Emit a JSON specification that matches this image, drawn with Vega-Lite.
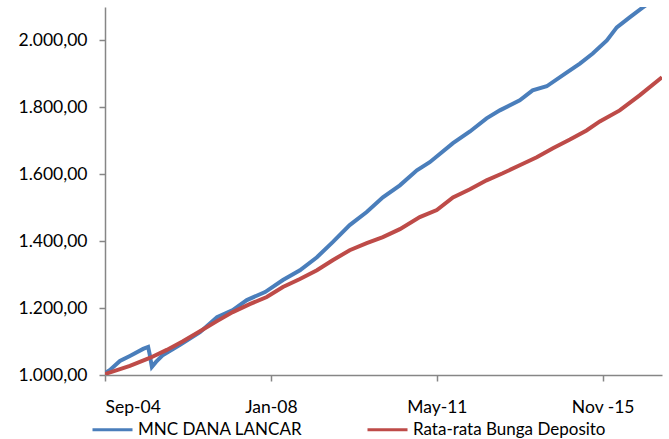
{
  "$schema": "https://vega.github.io/schema/vega-lite/v6.json",
  "width": 557,
  "height": 368,
  "autosize": "none",
  "padding": {"left": 105, "top": 7, "right": 7, "bottom": 64},
  "background": "white",
  "config": {
    "locale": {"number": {"decimal": ",", "thousands": ".", "grouping": [3], "currency": ["", ""]}},
    "view": {"stroke": null},
    "font": "Lato"
  },
  "data": {
    "values": [
      {"t": 0, "v": 1006, "s": "MNC DANA LANCAR"},
      {"t": 1.2, "v": 1015, "s": "MNC DANA LANCAR"},
      {"t": 3.6, "v": 1042, "s": "MNC DANA LANCAR"},
      {"t": 6.0, "v": 1057, "s": "MNC DANA LANCAR"},
      {"t": 9.2, "v": 1078, "s": "MNC DANA LANCAR"},
      {"t": 10.4, "v": 1084, "s": "MNC DANA LANCAR"},
      {"t": 10.8, "v": 1060, "s": "MNC DANA LANCAR"},
      {"t": 11.3, "v": 1024, "s": "MNC DANA LANCAR"},
      {"t": 12.3, "v": 1039, "s": "MNC DANA LANCAR"},
      {"t": 14.0, "v": 1060, "s": "MNC DANA LANCAR"},
      {"t": 18.1, "v": 1090, "s": "MNC DANA LANCAR"},
      {"t": 22.9, "v": 1128, "s": "MNC DANA LANCAR"},
      {"t": 27.0, "v": 1173, "s": "MNC DANA LANCAR"},
      {"t": 30.8, "v": 1194, "s": "MNC DANA LANCAR"},
      {"t": 34.2, "v": 1224, "s": "MNC DANA LANCAR"},
      {"t": 38.6, "v": 1248, "s": "MNC DANA LANCAR"},
      {"t": 42.9, "v": 1284, "s": "MNC DANA LANCAR"},
      {"t": 47.0, "v": 1313, "s": "MNC DANA LANCAR"},
      {"t": 51.1, "v": 1352, "s": "MNC DANA LANCAR"},
      {"t": 54.9, "v": 1397, "s": "MNC DANA LANCAR"},
      {"t": 59.0, "v": 1448, "s": "MNC DANA LANCAR"},
      {"t": 63.1, "v": 1487, "s": "MNC DANA LANCAR"},
      {"t": 67.0, "v": 1531, "s": "MNC DANA LANCAR"},
      {"t": 71.1, "v": 1567, "s": "MNC DANA LANCAR"},
      {"t": 75.2, "v": 1612, "s": "MNC DANA LANCAR"},
      {"t": 78.3, "v": 1636, "s": "MNC DANA LANCAR"},
      {"t": 83.9, "v": 1693, "s": "MNC DANA LANCAR"},
      {"t": 88.0, "v": 1728, "s": "MNC DANA LANCAR"},
      {"t": 92.0, "v": 1767, "s": "MNC DANA LANCAR"},
      {"t": 95.2, "v": 1791, "s": "MNC DANA LANCAR"},
      {"t": 100.0, "v": 1821, "s": "MNC DANA LANCAR"},
      {"t": 103.1, "v": 1851, "s": "MNC DANA LANCAR"},
      {"t": 106.5, "v": 1863, "s": "MNC DANA LANCAR"},
      {"t": 111.3, "v": 1904, "s": "MNC DANA LANCAR"},
      {"t": 114.5, "v": 1931, "s": "MNC DANA LANCAR"},
      {"t": 117.6, "v": 1961, "s": "MNC DANA LANCAR"},
      {"t": 121.0, "v": 2000, "s": "MNC DANA LANCAR"},
      {"t": 123.4, "v": 2039, "s": "MNC DANA LANCAR"},
      {"t": 126.5, "v": 2069, "s": "MNC DANA LANCAR"},
      {"t": 129.6, "v": 2098, "s": "MNC DANA LANCAR"},
      {"t": 131.3, "v": 2113, "s": "MNC DANA LANCAR"},
      {"t": 0, "v": 1003, "s": "Rata-rata Bunga Deposito"},
      {"t": 6.0, "v": 1027, "s": "Rata-rata Bunga Deposito"},
      {"t": 10.8, "v": 1051, "s": "Rata-rata Bunga Deposito"},
      {"t": 14.9, "v": 1075, "s": "Rata-rata Bunga Deposito"},
      {"t": 18.8, "v": 1101, "s": "Rata-rata Bunga Deposito"},
      {"t": 22.9, "v": 1131, "s": "Rata-rata Bunga Deposito"},
      {"t": 27.0, "v": 1161, "s": "Rata-rata Bunga Deposito"},
      {"t": 30.8, "v": 1188, "s": "Rata-rata Bunga Deposito"},
      {"t": 34.9, "v": 1212, "s": "Rata-rata Bunga Deposito"},
      {"t": 39.0, "v": 1233, "s": "Rata-rata Bunga Deposito"},
      {"t": 42.9, "v": 1263, "s": "Rata-rata Bunga Deposito"},
      {"t": 47.0, "v": 1287, "s": "Rata-rata Bunga Deposito"},
      {"t": 51.1, "v": 1313, "s": "Rata-rata Bunga Deposito"},
      {"t": 54.9, "v": 1343, "s": "Rata-rata Bunga Deposito"},
      {"t": 59.0, "v": 1373, "s": "Rata-rata Bunga Deposito"},
      {"t": 63.1, "v": 1394, "s": "Rata-rata Bunga Deposito"},
      {"t": 67.0, "v": 1412, "s": "Rata-rata Bunga Deposito"},
      {"t": 71.1, "v": 1436, "s": "Rata-rata Bunga Deposito"},
      {"t": 75.9, "v": 1472, "s": "Rata-rata Bunga Deposito"},
      {"t": 80.0, "v": 1493, "s": "Rata-rata Bunga Deposito"},
      {"t": 83.9, "v": 1531, "s": "Rata-rata Bunga Deposito"},
      {"t": 88.0, "v": 1555, "s": "Rata-rata Bunga Deposito"},
      {"t": 92.0, "v": 1582, "s": "Rata-rata Bunga Deposito"},
      {"t": 95.9, "v": 1603, "s": "Rata-rata Bunga Deposito"},
      {"t": 100.0, "v": 1627, "s": "Rata-rata Bunga Deposito"},
      {"t": 104.1, "v": 1651, "s": "Rata-rata Bunga Deposito"},
      {"t": 108.0, "v": 1678, "s": "Rata-rata Bunga Deposito"},
      {"t": 112.1, "v": 1704, "s": "Rata-rata Bunga Deposito"},
      {"t": 116.1, "v": 1731, "s": "Rata-rata Bunga Deposito"},
      {"t": 119.3, "v": 1758, "s": "Rata-rata Bunga Deposito"},
      {"t": 124.1, "v": 1791, "s": "Rata-rata Bunga Deposito"},
      {"t": 128.9, "v": 1836, "s": "Rata-rata Bunga Deposito"},
      {"t": 134.3, "v": 1890, "s": "Rata-rata Bunga Deposito"}
    ]
  },
  "mark": {"type": "line", "strokeWidth": 4, "clip": true, "interpolate": "linear"},
  "encoding": {
    "x": {
      "field": "t",
      "type": "quantitative",
      "scale": {"domain": [0, 134.3], "nice": false, "zero": false},
      "axis": {
        "title": null,
        "grid": false,
        "values": [0, 40, 80, 120],
        "labelExpr": "datum.value == 0 ? 'Sep-04' : datum.value == 40 ? 'Jan-08' : datum.value == 80 ? 'May-11' : 'Nov -15'",
        "domainColor": "#868686",
        "domainWidth": 1.5,
        "tickColor": "#868686",
        "tickWidth": 1.5,
        "tickSize": 6,
        "labelPadding": 17,
        "labelFontSize": 17.5,
        "labelColor": "#000000",
        "labelFont": "Lato"
      }
    },
    "y": {
      "field": "v",
      "type": "quantitative",
      "scale": {"domain": [1000, 2100], "nice": false, "zero": false},
      "axis": {
        "title": null,
        "grid": false,
        "values": [1000, 1200, 1400, 1600, 1800, 2000],
        "format": ",.2f",
        "domainColor": "#868686",
        "domainWidth": 1.5,
        "tickColor": "#868686",
        "tickWidth": 1.5,
        "tickSize": 6,
        "labelPadding": 12,
        "labelFontSize": 17.5,
        "labelColor": "#000000",
        "labelFont": "Lato"
      }
    },
    "color": {
      "field": "s",
      "type": "nominal",
      "scale": {"domain": ["MNC DANA LANCAR", "Rata-rata Bunga Deposito"], "range": ["#4a7ebb", "#be4b48"]},
      "legend": {
        "title": null,
        "orient": "none",
        "direction": "horizontal",
        "legendX": -14,
        "legendY": 401,
        "symbolType": "stroke",
        "symbolSize": 1600,
        "symbolStrokeWidth": 3,
        "labelFontSize": 17,
        "labelFont": "Lato",
        "labelColor": "#000000",
        "labelOffset": 4,
        "columnPadding": 58,
        "labelLimit": 400
      }
    }
  }
}
